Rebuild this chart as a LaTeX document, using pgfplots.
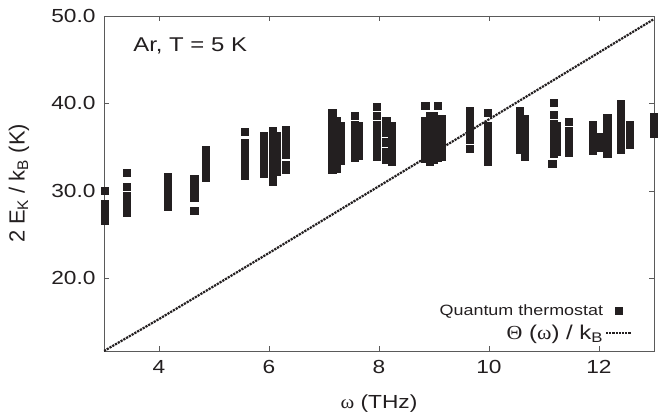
\documentclass[border=0pt]{standalone}
\usepackage{pgfplots}
\pgfplotsset{compat=1.18}
\usepackage{fontspec}
\setmainfont{Liberation Sans}[FakeStretch=1.2]
\newfontfamily\plain{Liberation Sans}
\newfontfamily\grk{Liberation Serif}[FakeStretch=1.1]
\definecolor{ink}{HTML}{231F20}
\definecolor{spine}{HTML}{5A5A5A}
\pgfplotsset{
  marklegend/.style={legend image code/.code={\draw[mark repeat=2,mark phase=2,##1] plot coordinates {(0bp,0bp) (12.5bp,0bp) (25bp,0bp)};}},
  linelegend/.style={legend image code/.code={\draw[##1, line width=1.8bp] (0bp,0bp) -- (25bp,0bp);}},
}
\begin{document}
\begin{tikzpicture}
\begin{axis}[
  scale only axis, width=550bp, height=335bp,
  xmin=3, xmax=13, ymin=11.7, ymax=50,
  xtick={4,6,8,10,12}, ytick={20,30,40,50},
  tick align=inside, major tick length=5bp,
  axis line style={spine, line width=0.8bp},
  every tick/.style={spine, line width=0.8bp},
  /pgf/number format/assume math mode=true,
  tick label style={font=\fontsize{19}{21}\selectfont, text=ink},
  yticklabel style={xshift=-5bp, /pgf/number format/.cd, fixed, fixed zerofill, precision=1},
  xticklabel style={yshift=-6bp},
  xlabel={{\grk ω} (THz)},
  ylabel={\plain 2 E\textsubscript{K} / k\textsubscript{B} (K)},
  xlabel style={font=\fontsize{19}{21}\selectfont, text=ink, at={(axis description cs:0.5,-0.158)}, anchor=center},
  ylabel style={font=\fontsize{22}{24}\selectfont, text=ink, at={(axis description cs:-0.1545,0.5)}, anchor=center},
  legend style={draw=none, fill=none, at={(axis cs:12.62,12.5)}, anchor=south east,
    text=ink, row sep=4bp, inner sep=1bp},
  legend plot pos=right, legend cell align=right,
]
\coordinate (ll) at (rel axis cs:0,0);
\coordinate (ur) at (rel axis cs:1,1);
\addplot[only marks, mark=square*, mark size=3.6bp, color=ink, marklegend]
coordinates {
(3.02,30.06) (3.02,28.57) (3.02,28.07) (3.02,27.57) (3.02,27.07) (3.02,26.63)
(3.42,32.06) (3.42,30.51) (3.42,29.49) (3.42,28.99) (3.42,28.49) (3.42,27.99) (3.42,27.54)
(4.16,31.66) (4.16,31.16) (4.16,30.66) (4.16,30.16) (4.16,29.66) (4.16,29.16) (4.16,28.66) (4.16,28.23)
(4.64,31.43) (4.64,30.93) (4.64,30.43) (4.64,29.93) (4.64,29.43) (4.64,29.26) (4.64,27.71)
(4.85,34.74) (4.85,34.24) (4.85,33.74) (4.85,33.24) (4.85,32.74) (4.85,32.24) (4.85,31.74) (4.85,31.54)
(5.56,36.74) (5.56,35.54) (5.56,35.04) (5.56,34.54) (5.56,34.04) (5.56,33.54) (5.56,33.04) (5.56,32.54) (5.56,32.04) (5.56,31.77)
(5.91,36.34) (5.91,35.84) (5.91,35.34) (5.91,34.84) (5.91,34.34) (5.91,33.84) (5.91,33.34) (5.91,32.84) (5.91,32.34) (5.91,32.00)
(6.07,36.91) (6.07,36.41) (6.07,35.91) (6.07,35.41) (6.07,34.91) (6.07,34.41) (6.07,33.91) (6.07,33.41) (6.07,32.91) (6.07,32.41) (6.07,31.91) (6.07,31.41) (6.07,31.09)
(6.13,36.30) (6.13,35.80) (6.13,35.30) (6.13,34.80) (6.13,34.30) (6.13,33.80) (6.13,33.30) (6.13,32.80) (6.13,32.30) (6.13,32.20)
(6.31,37.03) (6.31,36.53) (6.31,36.03) (6.31,35.53) (6.31,35.03) (6.31,34.53) (6.31,34.17) (6.31,33.03) (6.31,32.53) (6.31,32.46)
(7.15,38.91) (7.15,38.17) (7.15,37.67) (7.15,37.17) (7.15,36.67) (7.15,36.17) (7.15,35.67) (7.15,35.17) (7.15,34.67) (7.15,34.17) (7.15,33.67) (7.15,33.17) (7.15,32.67) (7.15,32.46)
(7.22,38.00) (7.22,37.50) (7.22,37.00) (7.22,36.50) (7.22,36.00) (7.22,35.50) (7.22,35.00) (7.22,34.50) (7.22,34.00) (7.22,33.50) (7.22,33.00) (7.22,32.60)
(7.30,37.50) (7.30,37.00) (7.30,36.50) (7.30,36.00) (7.30,35.50) (7.30,35.00) (7.30,34.50) (7.30,34.00) (7.30,33.50)
(7.56,38.63) (7.56,37.60) (7.56,37.10) (7.56,36.60) (7.56,36.10) (7.56,35.60) (7.56,35.10) (7.56,34.60) (7.56,34.10) (7.56,33.83)
(7.62,37.50) (7.62,37.00) (7.62,36.50) (7.62,36.00) (7.62,35.50) (7.62,35.00) (7.62,34.50) (7.62,34.00)
(7.96,39.60) (7.96,38.60) (7.96,37.60) (7.96,37.10) (7.96,36.60) (7.96,36.10) (7.96,35.60) (7.96,35.10) (7.96,34.60) (7.96,34.10) (7.96,33.94)
(8.13,38.06) (8.13,37.56) (8.13,37.06) (8.13,36.66) (8.13,35.66) (8.13,35.50) (8.13,34.50) (8.13,34.00) (8.13,33.60)
(8.23,37.50) (8.23,37.00) (8.23,36.50) (8.23,36.00) (8.23,35.50) (8.23,35.00) (8.23,34.50) (8.23,34.30) (8.23,33.30)
(8.84,39.77) (8.84,38.00) (8.84,37.50) (8.84,37.00) (8.84,36.50) (8.84,36.00) (8.84,35.50) (8.84,35.00) (8.84,34.50) (8.84,34.00) (8.84,33.70)
(8.92,38.60) (8.92,38.10) (8.92,37.60) (8.92,37.10) (8.92,36.60) (8.92,36.10) (8.92,35.60) (8.92,35.10) (8.92,34.60) (8.92,34.10) (8.92,33.60) (8.92,33.40)
(9.00,38.60) (9.00,38.10) (9.00,37.60) (9.00,37.10) (9.00,36.60) (9.00,36.10) (9.00,35.60) (9.00,35.10) (9.00,34.60) (9.00,34.10) (9.00,33.60)
(9.07,39.70) (9.07,38.30) (9.07,37.80) (9.07,37.30) (9.07,36.80) (9.07,36.30) (9.07,35.80) (9.07,35.30) (9.07,34.80) (9.07,34.30) (9.07,33.80)
(9.13,38.20) (9.13,37.70) (9.13,37.20) (9.13,36.70) (9.13,36.20) (9.13,35.70) (9.13,35.20) (9.13,34.70) (9.13,34.20) (9.13,33.90)
(9.65,39.20) (9.65,38.70) (9.65,38.20) (9.65,37.70) (9.65,37.20) (9.65,36.70) (9.65,36.20) (9.65,35.89) (9.65,34.80)
(9.98,38.90) (9.98,37.49) (9.98,36.99) (9.98,36.49) (9.98,35.99) (9.98,35.49) (9.98,34.99) (9.98,34.49) (9.98,33.99) (9.98,33.49) (9.98,33.37)
(10.56,39.20) (10.56,38.70) (10.56,38.20) (10.56,37.70) (10.56,37.13) (10.56,36.14) (10.56,35.64) (10.56,35.14) (10.56,34.74)
(10.65,38.29) (10.65,37.79) (10.65,37.29) (10.65,36.79) (10.65,36.29) (10.65,35.79) (10.65,35.29) (10.65,34.79) (10.65,34.29) (10.65,33.94)
(11.17,40.06) (11.17,38.74) (11.17,37.71) (11.17,37.21) (11.17,36.71) (11.17,36.21) (11.17,35.71) (11.17,35.21) (11.17,34.71) (11.17,34.29) (11.15,33.09)
(11.22,37.50) (11.22,37.00) (11.22,36.50) (11.22,36.00) (11.22,35.50) (11.22,35.00) (11.22,34.50)
(11.45,37.94) (11.45,36.90) (11.45,36.40) (11.45,35.90) (11.45,35.40) (11.45,34.90) (11.45,34.40)
(11.89,37.60) (11.89,37.10) (11.89,36.60) (11.89,36.10) (11.89,35.60) (11.89,35.10) (11.89,34.63)
(12.00,36.20) (12.00,35.70) (12.00,35.20) (12.00,35.00)
(12.15,38.40) (12.15,37.90) (12.15,37.40) (12.15,36.90) (12.15,36.40) (12.15,35.90) (12.15,35.40) (12.15,34.90) (12.15,34.40) (12.15,34.29)
(12.40,40.00) (12.40,39.50) (12.40,39.00) (12.40,38.50) (12.40,38.00) (12.40,37.50) (12.40,37.00) (12.40,36.50) (12.40,36.00) (12.40,35.50) (12.40,35.00) (12.40,34.74)
(12.56,37.60) (12.56,37.10) (12.56,36.60) (12.56,36.10) (12.56,35.60) (12.56,35.30)
(13.00,38.50) (13.00,38.00) (13.00,37.50) (13.00,37.00) (13.00,36.57)
};
\addlegendentry{\fontsize{15}{17}\selectfont Quantum thermostat}
\addplot[densely dotted, line width=2.2bp, color=ink, linelegend]
coordinates {
(3,11.70) (4,15.35) (5,19.12) (6,22.91) (7,26.73) (8,30.55) (9,34.37) (10,38.19) (11,42.01) (12,45.83) (13,49.65)
};
\addlegendentry{\fontsize{20}{22}\selectfont {\grk Θ} ({\grk ω}) / k\textsubscript{B}}
\node[anchor=base west, font=\fontsize{20}{22}\selectfont, text=ink] at (axis cs:3.47,45.89) {Ar, T = 5 K};
\end{axis}
\pgfresetboundingbox
\path ([shift={(-104bp,-69bp)}]ll) rectangle ([shift={(4bp,16bp)}]ur);
\end{tikzpicture}
\end{document}
